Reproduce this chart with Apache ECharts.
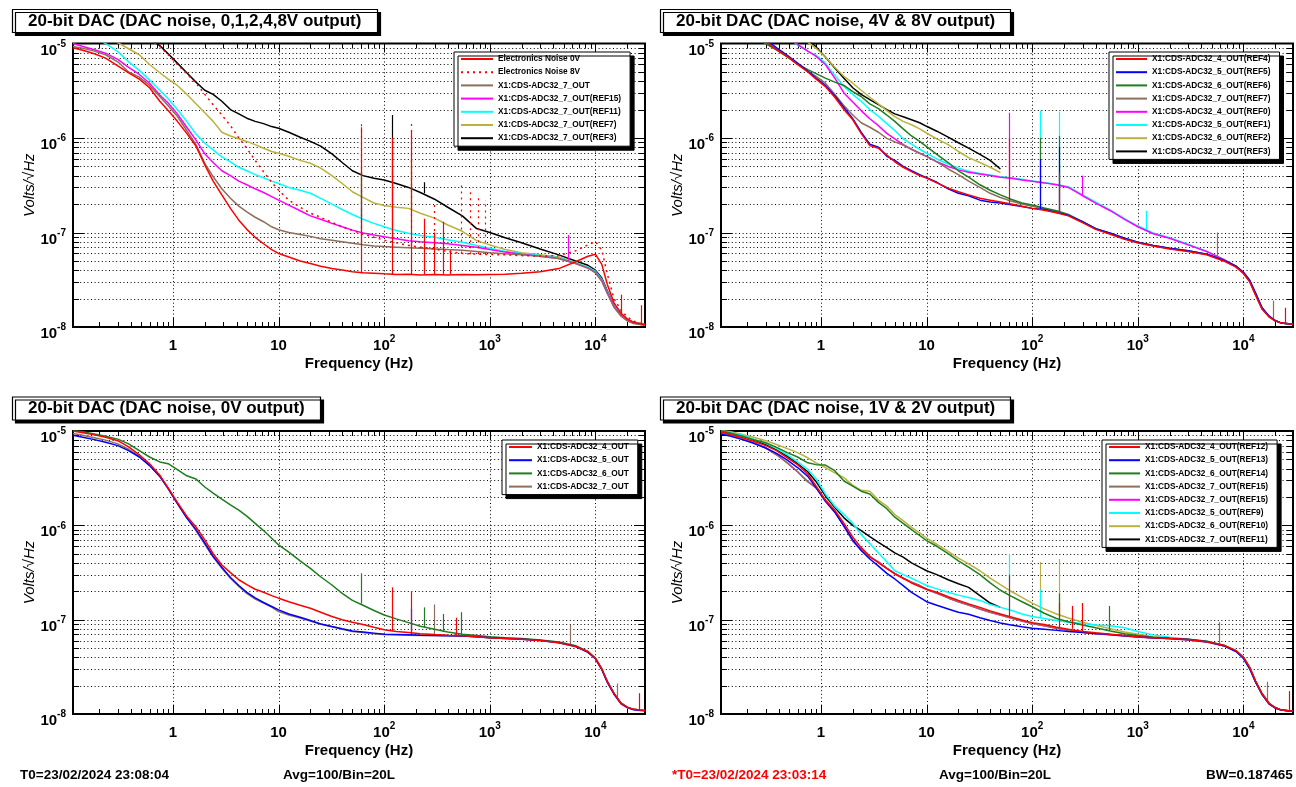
<!DOCTYPE html>
<html>
<head>
<meta charset="utf-8">
<script src="https://cdn.jsdelivr.net/npm/echarts@6/dist/echarts.min.js"></script>
<style>
  html, body { margin: 0; padding: 0; background: #ffffff; }
  #chart { width: 1296px; height: 787px; }
</style>
</head>
<body>
<div id="chart"></div>
<script>
// ---------------------------------------------------------------------------
// Frequency grid (Hz) shared by every spectrum
// ---------------------------------------------------------------------------
const FREQ = [
  0.113, 0.14, 0.18, 0.23, 0.3, 0.38, 0.48, 0.6, 0.75, 0.9,
  1.1, 1.35, 1.65, 2, 2.4, 2.9, 3.5, 4.2, 5, 6,
  7.2, 8.6, 10, 12.5, 16, 20, 25, 32, 40, 50,
  63, 80, 100, 130, 170, 220, 300, 400, 550, 750,
  1000, 1400, 2000, 3000, 4500, 6500, 8500, 10000, 11500, 13000,
  15000, 17500, 20000, 23000, 26500, 29500
];

// ---------------------------------------------------------------------------
// Panel 1: DAC noise, 0,1,2,4,8V output  (Volts/rtHz)
// ---------------------------------------------------------------------------
const P1_NOISE_0V = [
  9.0e-6, 8.5e-6, 7.8e-6, 7.0e-6, 5.8e-6, 4.9e-6, 4.2e-6, 3.4e-6, 2.45e-6, 1.95e-6,
  1.5e-6, 1.12e-6, 8.2e-7, 5.2e-7, 3.5e-7, 2.5e-7, 1.8e-7, 1.35e-7, 1.08e-7, 8.9e-8,
  7.6e-8, 6.6e-8, 6.0e-8, 5.5e-8, 5.0e-8, 4.7e-8, 4.4e-8, 4.15e-8, 4.0e-8, 3.85e-8,
  3.75e-8, 3.7e-8, 3.65e-8, 3.6e-8, 3.62e-8, 3.56e-8, 3.6e-8, 3.55e-8, 3.6e-8, 3.57e-8,
  3.6e-8, 3.62e-8, 3.7e-8, 3.85e-8, 4.15e-8, 4.9e-8, 5.6e-8, 5.9e-8, 4.6e-8, 2.8e-8,
  1.8e-8, 1.4e-8, 1.22e-8, 1.12e-8, 1.08e-8, 1.06e-8
];
const P1_NOISE_8V = [
  1.6e-5, 1.5e-5, 1.45e-5, 1.4e-5, 1.35e-5, 1.3e-5, 1.2e-5, 1.1e-5, 9.3e-6, 7.6e-6,
  6.0e-6, 4.8e-6, 3.8e-6, 2.9e-6, 2.25e-6, 1.75e-6, 1.35e-6, 1.0e-6, 7.8e-7, 5.8e-7,
  4.4e-7, 3.4e-7, 2.8e-7, 2.2e-7, 1.85e-7, 1.6e-7, 1.45e-7, 1.28e-7, 1.15e-7, 1.05e-7,
  9.6e-8, 8.9e-8, 8.3e-8, 7.8e-8, 7.3e-8, 7.0e-8, 6.7e-8, 6.3e-8, 6.0e-8, 5.9e-8,
  5.85e-8, 5.8e-8, 5.7e-8, 5.6e-8, 5.7e-8, 6.4e-8, 7.4e-8, 8.0e-8, 6.5e-8, 3.6e-8,
  2.0e-8, 1.5e-8, 1.28e-8, 1.15e-8, 1.1e-8, 1.08e-8
];
const P1_ADC7 = [
  9.3e-6, 8.9e-6, 8.3e-6, 7.6e-6, 6.4e-6, 5.0e-6, 4.4e-6, 3.6e-6, 2.75e-6, 2.2e-6,
  1.7e-6, 1.2e-6, 8.5e-7, 5.4e-7, 3.9e-7, 2.9e-7, 2.3e-7, 1.9e-7, 1.65e-7, 1.45e-7,
  1.3e-7, 1.15e-7, 1.07e-7, 1.0e-7, 9.5e-8, 9.1e-8, 8.6e-8, 8.3e-8, 8.0e-8, 7.7e-8,
  7.4e-8, 7.2e-8, 7.1e-8, 7.0e-8, 6.9e-8, 6.8e-8, 6.7e-8, 6.6e-8, 6.5e-8, 6.3e-8,
  6.1e-8, 5.95e-8, 5.8e-8, 5.6e-8, 5.3e-8, 4.7e-8, 4.2e-8, 3.75e-8, 3.05e-8, 2.25e-8,
  1.62e-8, 1.3e-8, 1.16e-8, 1.09e-8, 1.06e-8, 1.04e-8
];
const P1_REF15 = [
  1.0e-5, 9.3e-6, 8.6e-6, 7.9e-6, 6.8e-6, 5.6e-6, 4.7e-6, 3.8e-6, 2.85e-6, 2.35e-6,
  1.8e-6, 1.3e-6, 9.5e-7, 6.8e-7, 5.5e-7, 4.5e-7, 4.0e-7, 3.5e-7, 3.2e-7, 2.9e-7,
  2.65e-7, 2.4e-7, 2.2e-7, 1.95e-7, 1.7e-7, 1.5e-7, 1.38e-7, 1.25e-7, 1.15e-7, 1.06e-7,
  9.9e-8, 9.4e-8, 9.0e-8, 8.6e-8, 8.2e-8, 8.0e-8, 7.8e-8, 7.6e-8, 7.3e-8, 7.0e-8,
  6.6e-8, 6.2e-8, 5.9e-8, 5.6e-8, 5.3e-8, 4.7e-8, 4.2e-8, 3.8e-8, 3.1e-8, 2.3e-8,
  1.65e-8, 1.33e-8, 1.18e-8, 1.1e-8, 1.07e-8, 1.05e-8
];
const P1_REF11 = [
  1.4e-5, 1.3e-5, 1.15e-5, 1.0e-5, 8.2e-6, 6.4e-6, 5.2e-6, 4.1e-6, 3.2e-6, 2.6e-6,
  2.0e-6, 1.5e-6, 1.1e-6, 8.8e-7, 7.5e-7, 6.3e-7, 5.6e-7, 4.9e-7, 4.5e-7, 4.1e-7,
  3.8e-7, 3.5e-7, 3.3e-7, 3.0e-7, 2.8e-7, 2.6e-7, 2.3e-7, 2.0e-7, 1.75e-7, 1.55e-7,
  1.38e-7, 1.25e-7, 1.15e-7, 1.05e-7, 9.8e-8, 9.3e-8, 8.9e-8, 8.4e-8, 7.9e-8, 7.3e-8,
  6.8e-8, 6.3e-8, 6.0e-8, 5.7e-8, 5.4e-8, 4.8e-8, 4.3e-8, 3.9e-8, 3.2e-8, 2.35e-8,
  1.7e-8, 1.35e-8, 1.2e-8, 1.12e-8, 1.08e-8, 1.06e-8
];
const P1_REF7 = [
  1.5e-5, 1.4e-5, 1.3e-5, 1.15e-5, 1.02e-5, 8.8e-6, 7.6e-6, 6.0e-6, 4.9e-6, 4.2e-6,
  3.6e-6, 2.9e-6, 2.3e-6, 1.85e-6, 1.5e-6, 1.15e-6, 1.05e-6, 9.8e-7, 9.2e-7, 8.5e-7,
  7.8e-7, 7.2e-7, 6.9e-7, 6.4e-7, 5.8e-7, 5.4e-7, 4.8e-7, 4.0e-7, 3.3e-7, 2.7e-7,
  2.35e-7, 2.05e-7, 1.93e-7, 1.85e-7, 1.8e-7, 1.6e-7, 1.42e-7, 1.2e-7, 1.03e-7, 8.2e-8,
  7.4e-8, 6.6e-8, 6.1e-8, 5.8e-8, 5.5e-8, 4.8e-8, 4.3e-8, 3.8e-8, 3.1e-8, 2.3e-8,
  1.65e-8, 1.32e-8, 1.18e-8, 1.1e-8, 1.07e-8, 1.05e-8
];
const P1_REF3 = [
  1.6e-5, 1.55e-5, 1.5e-5, 1.45e-5, 1.4e-5, 1.35e-5, 1.25e-5, 1.12e-5, 9.5e-6, 7.8e-6,
  6.2e-6, 4.9e-6, 3.9e-6, 3.2e-6, 2.9e-6, 2.45e-6, 2.0e-6, 1.8e-6, 1.62e-6, 1.5e-6,
  1.42e-6, 1.32e-6, 1.27e-6, 1.15e-6, 1.02e-6, 9.2e-7, 8.2e-7, 6.8e-7, 5.5e-7, 4.5e-7,
  4.0e-7, 3.75e-7, 3.6e-7, 3.3e-7, 3.0e-7, 2.65e-7, 2.25e-7, 1.85e-7, 1.5e-7, 1.1e-7,
  1.0e-7, 8.8e-8, 7.8e-8, 6.7e-8, 5.8e-8, 5.0e-8, 4.5e-8, 4.0e-8, 3.3e-8, 2.4e-8,
  1.7e-8, 1.35e-8, 1.2e-8, 1.12e-8, 1.08e-8, 1.06e-8
];
// line harmonics: [frequency, floor, peak]
const P1_SPIKES_0V = [[60, 3.7e-8, 1.3e-6], [120, 3.6e-8, 1.0e-6], [180, 3.6e-8, 1.2e-6], [240, 3.6e-8, 1.4e-7], [300, 3.6e-8, 1.0e-7], [360, 3.6e-8, 1.3e-7], [420, 3.6e-8, 6.5e-8], [17700, 1.35e-8, 2.2e-8], [27000, 1.08e-8, 1.7e-8]];
const P1_SPIKES_8V = [[60, 9.6e-8, 1.4e-6], [180, 7.2e-8, 1.55e-6], [300, 6.7e-8, 2.0e-7], [540, 6.0e-8, 3.3e-7], [660, 5.9e-8, 2.95e-7], [780, 5.9e-8, 2.5e-7], [900, 5.85e-8, 2.2e-7]];
const P1_SPIKES_ADC7 = [[60, 7.4e-8, 3.0e-7]];
const P1_SPIKES_REF15 = [[120, 8.8e-8, 3.5e-7], [5500, 5.0e-8, 9.4e-8]];
const P1_SPIKES_REF11 = [[60, 1.38e-7, 4.0e-7], [120, 1.05e-7, 5.0e-7]];
const P1_SPIKES_REF7 = [[60, 2.4e-7, 5.0e-7], [120, 1.9e-7, 7.0e-7], [180, 1.8e-7, 6.0e-7]];
const P1_SPIKES_REF3 = [[120, 3.4e-7, 1.75e-6], [240, 2.6e-7, 3.4e-7]];

// ---------------------------------------------------------------------------
// Panel 2: DAC noise, 4V & 8V output
// ---------------------------------------------------------------------------
const P2_REF4 = [
  1.9e-5, 1.7e-5, 1.5e-5, 1.25e-5, 1.05e-5, 8.6e-6, 7.3e-6, 6.0e-6, 5.0e-6, 4.2e-6,
  3.5e-6, 2.7e-6, 2.0e-6, 1.56e-6, 1.12e-6, 8.3e-7, 7.8e-7, 6.6e-7, 5.6e-7, 4.9e-7,
  4.4e-7, 4.0e-7, 3.77e-7, 3.35e-7, 2.95e-7, 2.7e-7, 2.5e-7, 2.3e-7, 2.2e-7, 2.1e-7,
  2.0e-7, 1.9e-7, 1.8e-7, 1.72e-7, 1.62e-7, 1.5e-7, 1.27e-7, 1.08e-7, 9.6e-8, 8.5e-8,
  7.8e-8, 7.2e-8, 6.7e-8, 6.3e-8, 5.8e-8, 5.0e-8, 4.3e-8, 3.7e-8, 3.0e-8, 2.2e-8,
  1.55e-8, 1.28e-8, 1.16e-8, 1.1e-8, 1.08e-8, 1.07e-8
];
const P2_REF5 = [
  1.95e-5, 1.75e-5, 1.5e-5, 1.3e-5, 1.1e-5, 9.0e-6, 7.5e-6, 6.2e-6, 5.1e-6, 4.3e-6,
  3.6e-6, 2.8e-6, 2.1e-6, 1.6e-6, 1.15e-6, 8.6e-7, 8.0e-7, 6.4e-7, 5.8e-7, 5.0e-7,
  4.5e-7, 4.1e-7, 3.8e-7, 3.4e-7, 2.9e-7, 2.6e-7, 2.45e-7, 2.2e-7, 2.1e-7, 2.05e-7,
  1.97e-7, 1.88e-7, 1.8e-7, 1.75e-7, 1.63e-7, 1.52e-7, 1.3e-7, 1.1e-7, 9.8e-8, 8.7e-8,
  7.9e-8, 7.3e-8, 6.8e-8, 6.4e-8, 5.9e-8, 5.1e-8, 4.4e-8, 3.8e-8, 3.1e-8, 2.3e-8,
  1.6e-8, 1.3e-8, 1.17e-8, 1.1e-8, 1.08e-8, 1.07e-8
];
const P2_REF6 = [
  1.9e-5, 1.7e-5, 1.45e-5, 1.2e-5, 1.0e-5, 8.6e-6, 7.2e-6, 6.1e-6, 5.3e-6, 4.8e-6,
  4.3e-6, 3.9e-6, 3.6e-6, 3.1e-6, 2.75e-6, 2.3e-6, 2.05e-6, 1.75e-6, 1.5e-6, 1.25e-6,
  1.05e-6, 9.2e-7, 8.1e-7, 6.7e-7, 5.5e-7, 4.5e-7, 3.85e-7, 3.2e-7, 2.8e-7, 2.5e-7,
  2.25e-7, 2.05e-7, 1.95e-7, 1.82e-7, 1.7e-7, 1.55e-7, 1.3e-7, 1.1e-7, 9.8e-8, 8.7e-8,
  7.9e-8, 7.3e-8, 6.8e-8, 6.4e-8, 5.9e-8, 5.1e-8, 4.4e-8, 3.75e-8, 3.05e-8, 2.25e-8,
  1.58e-8, 1.29e-8, 1.16e-8, 1.1e-8, 1.08e-8, 1.07e-8
];
const P2_REF7 = [
  1.9e-5, 1.7e-5, 1.45e-5, 1.2e-5, 1.0e-5, 8.5e-6, 7.2e-6, 6.0e-6, 5.1e-6, 4.5e-6,
  3.8e-6, 2.9e-6, 2.2e-6, 1.75e-6, 1.45e-6, 1.3e-6, 1.15e-6, 9.9e-7, 9.1e-7, 8.4e-7,
  7.6e-7, 6.9e-7, 6.4e-7, 5.6e-7, 4.7e-7, 4.1e-7, 3.5e-7, 3.0e-7, 2.6e-7, 2.35e-7,
  2.15e-7, 2.0e-7, 1.9e-7, 1.78e-7, 1.66e-7, 1.52e-7, 1.28e-7, 1.09e-7, 9.7e-8, 8.6e-8,
  7.8e-8, 7.25e-8, 6.75e-8, 6.35e-8, 5.85e-8, 5.05e-8, 4.35e-8, 3.7e-8, 3.0e-8, 2.2e-8,
  1.56e-8, 1.28e-8, 1.16e-8, 1.1e-8, 1.08e-8, 1.07e-8
];
const P2_REF0 = [
  3.0e-5, 2.7e-5, 2.4e-5, 2.0e-5, 1.7e-5, 1.45e-5, 1.2e-5, 9.8e-6, 8.3e-6, 7.3e-6,
  6.0e-6, 4.3e-6, 3.0e-6, 2.4e-6, 1.95e-6, 1.6e-6, 1.35e-6, 1.12e-6, 9.8e-7, 8.5e-7,
  7.6e-7, 6.9e-7, 6.4e-7, 5.6e-7, 5.0e-7, 4.6e-7, 4.35e-7, 4.15e-7, 4.0e-7, 3.85e-7,
  3.75e-7, 3.6e-7, 3.48e-7, 3.35e-7, 3.2e-7, 3.0e-7, 2.45e-7, 2.05e-7, 1.7e-7, 1.38e-7,
  1.15e-7, 9.7e-8, 8.7e-8, 7.4e-8, 6.3e-8, 5.2e-8, 4.4e-8, 3.8e-8, 3.1e-8, 2.3e-8,
  1.6e-8, 1.3e-8, 1.17e-8, 1.1e-8, 1.08e-8, 1.07e-8
];
const P2_REF1 = [
  3.0e-5, 2.7e-5, 2.4e-5, 2.0e-5, 1.7e-5, 1.45e-5, 1.2e-5, 9.6e-6, 8.3e-6, 7.5e-6,
  6.2e-6, 4.6e-6, 3.5e-6, 2.9e-6, 2.45e-6, 2.0e-6, 1.7e-6, 1.42e-6, 1.2e-6, 9.8e-7,
  8.6e-7, 7.6e-7, 6.9e-7, 6.0e-7, 5.3e-7, 4.8e-7, 4.45e-7, 4.2e-7, 4.05e-7, 3.9e-7,
  3.8e-7, 3.65e-7, 3.5e-7, 3.38e-7, 3.22e-7, 3.05e-7, 2.5e-7, 2.1e-7, 1.72e-7, 1.4e-7,
  1.17e-7, 9.9e-8, 8.8e-8, 7.5e-8, 6.3e-8, 5.2e-8, 4.4e-8, 3.8e-8, 3.1e-8, 2.3e-8,
  1.6e-8, 1.3e-8, 1.17e-8, 1.1e-8, 1.08e-8, 1.07e-8
];
// REF2 and REF3 stop at 50 Hz
const P2_REF2 = [
  4.0e-5, 3.6e-5, 3.2e-5, 2.8e-5, 2.4e-5, 2.0e-5, 1.7e-5, 1.35e-5, 1.03e-5, 8.9e-6,
  7.2e-6, 5.6e-6, 4.5e-6, 3.8e-6, 3.2e-6, 2.7e-6, 2.3e-6, 1.95e-6, 1.68e-6, 1.5e-6,
  1.38e-6, 1.25e-6, 1.13e-6, 9.8e-7, 8.5e-7, 7.2e-7, 6.2e-7, 5.5e-7, 4.9e-7, 4.3e-7
];
const P2_REF3 = [
  4.0e-5, 3.6e-5, 3.2e-5, 2.8e-5, 2.4e-5, 2.0e-5, 1.7e-5, 1.4e-5, 1.1e-5, 9.2e-6,
  7.2e-6, 5.5e-6, 4.3e-6, 3.4e-6, 2.9e-6, 2.55e-6, 2.25e-6, 2.0e-6, 1.8e-6, 1.68e-6,
  1.56e-6, 1.45e-6, 1.33e-6, 1.18e-6, 1.02e-6, 8.9e-7, 7.8e-7, 6.7e-7, 5.8e-7, 4.7e-7
];
const P2_SPIKES_REF4 = [[60, 2.05e-7, 1.0e-6], [180, 1.62e-7, 4.3e-7], [25000, 1.08e-8, 1.6e-8]];
const P2_SPIKES_REF5 = [[120, 1.75e-7, 6.0e-7], [180, 1.63e-7, 8.0e-7]];
const P2_SPIKES_REF6 = [[120, 1.8e-7, 1.0e-6], [180, 1.7e-7, 1.05e-6]];
const P2_SPIKES_REF7 = [[5600, 5.5e-8, 1.0e-7], [19000, 1.2e-8, 1.9e-8]];
const P2_SPIKES_REF0 = [[60, 3.8e-7, 1.85e-6], [300, 2.45e-7, 4.0e-7]];
const P2_SPIKES_REF1 = [[120, 3.4e-7, 1.95e-6], [180, 3.2e-7, 1.9e-6], [1200, 1.05e-7, 1.7e-7]];

// ---------------------------------------------------------------------------
// Panel 3: DAC noise, 0V output
// ---------------------------------------------------------------------------
const P3_ADC4 = [
  1.0e-5, 9.6e-6, 9.1e-6, 8.6e-6, 7.9e-6, 6.8e-6, 5.6e-6, 4.5e-6, 3.4e-6, 2.5e-6,
  1.75e-6, 1.25e-6, 9.6e-7, 7.0e-7, 5.0e-7, 3.8e-7, 3.15e-7, 2.65e-7, 2.35e-7, 2.1e-7,
  1.95e-7, 1.8e-7, 1.69e-7, 1.55e-7, 1.42e-7, 1.32e-7, 1.2e-7, 1.08e-7, 1.0e-7, 9.4e-8,
  8.9e-8, 8.3e-8, 7.8e-8, 7.5e-8, 7.3e-8, 7.1e-8, 6.95e-8, 6.85e-8, 6.75e-8, 6.6e-8,
  6.45e-8, 6.3e-8, 6.2e-8, 6.0e-8, 5.7e-8, 5.2e-8, 4.6e-8, 3.9e-8, 3.0e-8, 2.2e-8,
  1.65e-8, 1.3e-8, 1.18e-8, 1.12e-8, 1.1e-8, 1.09e-8
];
const P3_ADC5 = [
  9.0e-6, 8.6e-6, 8.1e-6, 7.6e-6, 7.0e-6, 6.2e-6, 5.3e-6, 4.3e-6, 3.3e-6, 2.45e-6,
  1.7e-6, 1.2e-6, 9.0e-7, 6.5e-7, 4.7e-7, 3.6e-7, 2.8e-7, 2.3e-7, 1.95e-7, 1.7e-7,
  1.52e-7, 1.38e-7, 1.27e-7, 1.15e-7, 1.06e-7, 9.8e-8, 9.0e-8, 8.45e-8, 8.0e-8, 7.6e-8,
  7.4e-8, 7.2e-8, 7.0e-8, 6.95e-8, 6.9e-8, 6.85e-8, 6.8e-8, 6.75e-8, 6.7e-8, 6.6e-8,
  6.45e-8, 6.3e-8, 6.2e-8, 6.0e-8, 5.7e-8, 5.2e-8, 4.5e-8, 3.85e-8, 2.95e-8, 2.15e-8,
  1.62e-8, 1.28e-8, 1.17e-8, 1.11e-8, 1.09e-8, 1.08e-8
];
const P3_ADC6 = [
  1.02e-5, 9.8e-6, 9.3e-6, 8.8e-6, 8.2e-6, 7.3e-6, 6.2e-6, 5.3e-6, 4.7e-6, 4.5e-6,
  3.9e-6, 3.35e-6, 3.1e-6, 2.55e-6, 2.2e-6, 1.9e-6, 1.65e-6, 1.45e-6, 1.25e-6, 1.05e-6,
  8.8e-7, 7.3e-7, 6.2e-7, 5.2e-7, 4.2e-7, 3.5e-7, 2.85e-7, 2.33e-7, 1.9e-7, 1.6e-7,
  1.42e-7, 1.25e-7, 1.12e-7, 1.02e-7, 9.3e-8, 8.5e-8, 7.9e-8, 7.4e-8, 7.0e-8, 6.8e-8,
  6.6e-8, 6.45e-8, 6.3e-8, 6.1e-8, 5.8e-8, 5.3e-8, 4.6e-8, 3.9e-8, 3.0e-8, 2.2e-8,
  1.65e-8, 1.3e-8, 1.18e-8, 1.12e-8, 1.1e-8, 1.09e-8
];
const P3_ADC7 = [
  9.4e-6, 9.0e-6, 8.5e-6, 8.0e-6, 7.3e-6, 6.4e-6, 5.4e-6, 4.35e-6, 3.3e-6, 2.45e-6,
  1.72e-6, 1.2e-6, 8.8e-7, 6.3e-7, 4.6e-7, 3.5e-7, 2.75e-7, 2.25e-7, 1.9e-7, 1.65e-7,
  1.5e-7, 1.36e-7, 1.22e-7, 1.12e-7, 1.04e-7, 9.7e-8, 9.0e-8, 8.4e-8, 7.9e-8, 7.5e-8,
  7.3e-8, 7.1e-8, 6.95e-8, 6.9e-8, 6.85e-8, 6.8e-8, 6.8e-8, 6.75e-8, 6.7e-8, 6.6e-8,
  6.45e-8, 6.35e-8, 6.25e-8, 6.05e-8, 5.75e-8, 5.25e-8, 4.55e-8, 3.9e-8, 3.0e-8, 2.2e-8,
  1.65e-8, 1.3e-8, 1.18e-8, 1.12e-8, 1.1e-8, 1.09e-8
];
const P3_SPIKES_ADC4 = [[120, 7.6e-8, 2.2e-7], [180, 7.3e-8, 2.0e-7], [480, 6.8e-8, 1.05e-7], [25800, 1.1e-8, 1.66e-8]];
const P3_SPIKES_ADC5 = [[180, 6.9e-8, 1.3e-7]];
const P3_SPIKES_ADC6 = [[60, 1.48e-7, 3.1e-7], [240, 8.3e-8, 1.35e-7], [360, 7.4e-8, 1.15e-7], [540, 7.0e-8, 1.2e-7]];
const P3_SPIKES_ADC7 = [[300, 6.8e-8, 1.45e-7], [5800, 5.4e-8, 8.8e-8], [16000, 1.5e-8, 2.1e-8]];

// ---------------------------------------------------------------------------
// Panel 4: DAC noise, 1V & 2V output
// ---------------------------------------------------------------------------
const P4_REF12 = [
  9.8e-6, 9.2e-6, 8.5e-6, 7.8e-6, 7.0e-6, 6.2e-6, 5.2e-6, 4.4e-6, 3.5e-6, 2.6e-6,
  1.85e-6, 1.45e-6, 1.05e-6, 7.5e-7, 5.8e-7, 4.7e-7, 4.0e-7, 3.5e-7, 3.05e-7, 2.75e-7,
  2.45e-7, 2.25e-7, 2.1e-7, 1.95e-7, 1.75e-7, 1.6e-7, 1.47e-7, 1.35e-7, 1.24e-7, 1.15e-7,
  1.07e-7, 9.9e-8, 9.3e-8, 8.9e-8, 8.3e-8, 7.9e-8, 7.5e-8, 7.25e-8, 7.0e-8, 6.8e-8,
  6.6e-8, 6.45e-8, 6.3e-8, 6.15e-8, 5.85e-8, 5.35e-8, 4.7e-8, 4.0e-8, 3.1e-8, 2.25e-8,
  1.65e-8, 1.3e-8, 1.17e-8, 1.1e-8, 1.08e-8, 1.07e-8
];
const P4_REF13 = [
  9.3e-6, 8.8e-6, 8.1e-6, 7.4e-6, 6.6e-6, 5.8e-6, 4.9e-6, 4.1e-6, 3.3e-6, 2.5e-6,
  1.8e-6, 1.38e-6, 9.8e-7, 7.0e-7, 5.4e-7, 4.4e-7, 3.7e-7, 3.1e-7, 2.7e-7, 2.3e-7,
  1.95e-7, 1.72e-7, 1.55e-7, 1.42e-7, 1.3e-7, 1.2e-7, 1.14e-7, 1.05e-7, 9.8e-8, 9.2e-8,
  8.8e-8, 8.4e-8, 8.1e-8, 7.9e-8, 7.7e-8, 7.5e-8, 7.3e-8, 7.15e-8, 6.95e-8, 6.75e-8,
  6.6e-8, 6.45e-8, 6.3e-8, 6.15e-8, 5.85e-8, 5.3e-8, 4.6e-8, 3.9e-8, 3.0e-8, 2.2e-8,
  1.62e-8, 1.28e-8, 1.16e-8, 1.1e-8, 1.08e-8, 1.07e-8
];
const P4_REF14 = [
  1.0e-5, 9.5e-6, 8.8e-6, 8.1e-6, 7.5e-6, 6.7e-6, 5.9e-6, 5.3e-6, 4.6e-6, 4.4e-6,
  4.35e-6, 3.8e-6, 2.95e-6, 2.6e-6, 2.3e-6, 2.15e-6, 1.75e-6, 1.5e-6, 1.22e-6, 1.05e-6,
  9.0e-7, 7.8e-7, 6.9e-7, 6.0e-7, 5.0e-7, 4.2e-7, 3.6e-7, 3.0e-7, 2.45e-7, 2.05e-7,
  1.78e-7, 1.55e-7, 1.37e-7, 1.17e-7, 1.03e-7, 9.5e-8, 8.8e-8, 8.2e-8, 7.6e-8, 7.1e-8,
  6.8e-8, 6.5e-8, 6.35e-8, 6.2e-8, 5.9e-8, 5.35e-8, 4.7e-8, 4.0e-8, 3.1e-8, 2.25e-8,
  1.65e-8, 1.3e-8, 1.17e-8, 1.1e-8, 1.08e-8, 1.07e-8
];
// the two REF15 traces carry the same record
const P4_REF15 = [
  9.6e-6, 9.1e-6, 8.3e-6, 7.5e-6, 6.6e-6, 5.6e-6, 4.6e-6, 3.7e-6, 2.9e-6, 2.5e-6,
  1.85e-6, 1.4e-6, 9.8e-7, 6.8e-7, 5.5e-7, 4.6e-7, 4.1e-7, 3.5e-7, 3.1e-7, 2.75e-7,
  2.5e-7, 2.3e-7, 2.1e-7, 1.9e-7, 1.7e-7, 1.55e-7, 1.43e-7, 1.3e-7, 1.2e-7, 1.12e-7,
  1.04e-7, 9.7e-8, 9.1e-8, 8.6e-8, 8.1e-8, 7.7e-8, 7.35e-8, 7.1e-8, 6.9e-8, 6.7e-8,
  6.55e-8, 6.4e-8, 6.3e-8, 6.1e-8, 5.8e-8, 5.3e-8, 4.65e-8, 3.95e-8, 3.05e-8, 2.2e-8,
  1.62e-8, 1.28e-8, 1.16e-8, 1.1e-8, 1.08e-8, 1.07e-8
];
const P4_REF9 = [
  1.0e-5, 9.6e-6, 9.0e-6, 8.2e-6, 7.4e-6, 6.5e-6, 5.6e-6, 4.7e-6, 3.9e-6, 3.1e-6,
  2.15e-6, 1.6e-6, 1.3e-6, 1.05e-6, 8.0e-7, 6.4e-7, 5.1e-7, 4.1e-7, 3.3e-7, 3.0e-7,
  2.75e-7, 2.5e-7, 2.3e-7, 2.12e-7, 1.95e-7, 1.82e-7, 1.72e-7, 1.6e-7, 1.45e-7, 1.35e-7,
  1.26e-7, 1.15e-7, 1.08e-7, 1.03e-7, 9.8e-8, 9.4e-8, 9.1e-8, 8.8e-8, 8.6e-8, 8.2e-8,
  7.5e-8, 6.9e-8, 6.5e-8, 6.2e-8, 5.9e-8, 5.3e-8, 4.6e-8, 3.9e-8, 3.0e-8, 2.2e-8,
  1.62e-8, 1.28e-8, 1.16e-8, 1.1e-8, 1.08e-8, 1.07e-8
];
const P4_REF10 = [
  1.02e-5, 9.8e-6, 9.2e-6, 8.6e-6, 7.9e-6, 7.2e-6, 6.5e-6, 5.9e-6, 5.2e-6, 4.6e-6,
  4.1e-6, 3.6e-6, 3.2e-6, 2.65e-6, 2.35e-6, 2.3e-6, 1.85e-6, 1.6e-6, 1.3e-6, 1.12e-6,
  9.5e-7, 8.3e-7, 7.3e-7, 6.3e-7, 5.3e-7, 4.5e-7, 3.9e-7, 3.3e-7, 2.75e-7, 2.35e-7,
  2.0e-7, 1.72e-7, 1.5e-7, 1.3e-7, 1.15e-7, 1.04e-7, 9.4e-8, 8.7e-8, 8.0e-8, 7.4e-8,
  7.0e-8, 6.6e-8, 6.4e-8, 6.2e-8, 5.9e-8, 5.35e-8, 4.7e-8, 4.0e-8, 3.1e-8, 2.25e-8,
  1.65e-8, 1.3e-8, 1.17e-8, 1.1e-8, 1.08e-8, 1.07e-8
];
// REF11 stops at 50 Hz
const P4_REF11 = [
  1.0e-5, 9.5e-6, 8.9e-6, 8.1e-6, 7.2e-6, 6.3e-6, 5.4e-6, 4.5e-6, 3.7e-6, 2.9e-6,
  2.05e-6, 1.55e-6, 1.2e-6, 1.0e-6, 8.8e-7, 7.6e-7, 6.6e-7, 5.8e-7, 5.1e-7, 4.6e-7,
  4.0e-7, 3.6e-7, 3.3e-7, 3.0e-7, 2.65e-7, 2.4e-7, 2.2e-7, 1.8e-7, 1.5e-7, 1.35e-7
];
const P4_SPIKES_REF12 = [[60, 1.07e-7, 3.0e-7], [180, 8.3e-8, 1.5e-7], [240, 8.0e-8, 1.4e-7], [300, 7.5e-8, 1.5e-7], [27000, 1.08e-8, 1.75e-8]];
const P4_SPIKES_REF14 = [[180, 1.05e-7, 1.9e-7], [540, 7.7e-8, 1.4e-7]];
const P4_SPIKES_REF15 = [[5900, 5.5e-8, 9.4e-8], [17000, 1.35e-8, 2.2e-8]];
const P4_SPIKES_REF9 = [[60, 1.26e-7, 5.0e-7], [120, 1.05e-7, 2.1e-7]];
const P4_SPIKES_REF10 = [[120, 1.35e-7, 4.1e-7], [180, 1.12e-7, 4.4e-7]];

// ---------------------------------------------------------------------------
// Axis ticks
// ---------------------------------------------------------------------------
const X_MAJOR_TICKS = [1, 10, 100, 1000, 10000];
const X_MINOR_TICKS = [0.2, 0.3, 0.4, 0.5, 0.6, 0.7, 0.8, 0.9, 2, 3, 4, 5, 6, 7, 8, 9,
  20, 30, 40, 50, 60, 70, 80, 90, 200, 300, 400, 500, 600, 700, 800, 900,
  2000, 3000, 4000, 5000, 6000, 7000, 8000, 9000, 20000];
const Y_MAJOR_TICKS = [1e-7, 1e-6];
const Y_MINOR_TICKS = [2e-8, 3e-8, 4e-8, 5e-8, 6e-8, 7e-8, 8e-8, 9e-8,
  2e-7, 3e-7, 4e-7, 5e-7, 6e-7, 7e-7, 8e-7, 9e-7,
  2e-6, 3e-6, 4e-6, 5e-6, 6e-6, 7e-6, 8e-6, 9e-6];

// ---------------------------------------------------------------------------
// Text
// ---------------------------------------------------------------------------
const PANEL_TITLES = [
  '20-bit DAC (DAC noise, 0,1,2,4,8V output)',
  '20-bit DAC (DAC noise, 4V & 8V output)',
  '20-bit DAC (DAC noise, 0V output)',
  '20-bit DAC (DAC noise, 1V & 2V output)'
];
const FOOTER = [
  { text: 'T0=23/02/2024 23:08:04', x: 20, color: '#000000' },
  { text: 'Avg=100/Bin=20L', x: 283, color: '#000000' },
  { text: '*T0=23/02/2024 23:03:14', x: 672, color: '#ff0000' },
  { text: 'Avg=100/Bin=20L', x: 939, color: '#000000' },
  { text: 'BW=0.187465', x: 1206, color: '#000000' }
];

// ---------------------------------------------------------------------------
// Styling
// ---------------------------------------------------------------------------
const FONT = '"Liberation Sans", Arial, Helvetica, sans-serif';
const C = {
  red: '#ff0000', blue: '#0000ff', green: '#1e7d1e', brown: '#8e6e5c',
  magenta: '#ff00ff', cyan: '#00ffff', olive: '#bab23c', black: '#000000'
};
const GRIDS = [
  { left: 73, top: 43.5, width: 572, height: 283.5 },
  { left: 721, top: 43.5, width: 572, height: 283.5 },
  { left: 73, top: 431, width: 572, height: 283 },
  { left: 721, top: 431, width: 572, height: 283 }
];

// the first trace of each panel is painted last, so it sits on top
function traceSeries(key, gi, values, color, spikes, dotted, layer) {
  const lineType = dotted ? [2, 4] : 'solid';
  const s = {
    type: 'line', name: key, xAxisIndex: gi, yAxisIndex: gi,
    data: values.map((v, i) => [FREQ[i], v]),
    symbol: 'none', showSymbol: false, animation: false, z: 20 - layer,
    lineStyle: { color: color, width: 1.5, type: lineType },
    itemStyle: { color: color },
    emphasis: { disabled: true }
  };
  if (spikes && spikes.length) {
    s.markLine = {
      silent: true, animation: false, symbol: ['none', 'none'], z: 20 - layer,
      label: { show: false }, emphasis: { disabled: true },
      lineStyle: { color: color, width: 1.2, type: lineType },
      data: spikes.map(p => [{ coord: [p[0], p[1]] }, { coord: [p[0], p[2]] }])
    };
  }
  return s;
}

// dotted grid lines and inward ticks, placed through the axis scales
function yGridSeries(gi) {
  const data = Y_MINOR_TICKS.map(v => [1, v, 0]).concat(Y_MAJOR_TICKS.map(v => [1, v, 1]));
  return {
    type: 'custom', xAxisIndex: gi, yAxisIndex: gi, silent: true, z: 1, animation: false, clip: false,
    data: data,
    renderItem: function (params, api) {
      const cs = params.coordSys;
      const p = api.coord([api.value(0), api.value(1)]);
      const y = Math.round(p[1]) + 0.5;
      const len = api.value(2) === 1 ? 11 : 6;
      return { type: 'group', children: [
        { type: 'line', shape: { x1: cs.x, y1: y, x2: cs.x + cs.width, y2: y },
          style: { stroke: '#000', lineWidth: 1, lineDash: [1, 2.6] } },
        { type: 'line', shape: { x1: cs.x, y1: y, x2: cs.x + len, y2: y }, style: { stroke: '#000', lineWidth: 1 } },
        { type: 'line', shape: { x1: cs.x + cs.width - len, y1: y, x2: cs.x + cs.width, y2: y }, style: { stroke: '#000', lineWidth: 1 } }
      ] };
    }
  };
}
function xGridSeries(gi) {
  const data = X_MINOR_TICKS.map(v => [v, 1e-6, 0]).concat(X_MAJOR_TICKS.map(v => [v, 1e-6, 1]));
  return {
    type: 'custom', xAxisIndex: gi, yAxisIndex: gi, silent: true, z: 1, animation: false, clip: false,
    data: data,
    renderItem: function (params, api) {
      const cs = params.coordSys;
      const p = api.coord([api.value(0), api.value(1)]);
      const x = Math.round(p[0]) + 0.5;
      const major = api.value(2) === 1;
      const len = major ? 9 : 5;
      const kids = [
        { type: 'line', shape: { x1: x, y1: cs.y + cs.height, x2: x, y2: cs.y + cs.height - len }, style: { stroke: '#000', lineWidth: 1 } },
        { type: 'line', shape: { x1: x, y1: cs.y, x2: x, y2: cs.y + len }, style: { stroke: '#000', lineWidth: 1 } }
      ];
      if (major) {
        kids.push({ type: 'line', shape: { x1: x, y1: cs.y, x2: x, y2: cs.y + cs.height },
          style: { stroke: '#000', lineWidth: 1, lineDash: [1, 2.6] } });
      }
      return { type: 'group', children: kids };
    }
  };
}

const RICH = {
  b: { fontFamily: FONT, fontWeight: 'bold', fontSize: 15, color: '#000', lineHeight: 23 },
  s: { fontFamily: FONT, fontWeight: 'bold', fontSize: 10, color: '#000', lineHeight: 10, padding: [0, 0, 13, 0] }
};
function xLabel(v) {
  const e = Math.round(Math.log10(v));
  if (e === 0) return '{b|1}';
  if (e === 1) return '{b|10}';
  return '{b|10}{s|' + e + '}';
}
function yLabel(v) {
  const e = Math.round(Math.log10(v));
  return '{b|10}{s|' + e + '}';
}

const xAxes = GRIDS.map((g, i) => ({
  type: 'log', logBase: 10, gridIndex: i, min: 0.113, max: 29500,
  axisLine: { show: false }, axisTick: { show: false }, splitLine: { show: false },
  minorTick: { show: false }, minorSplitLine: { show: false },
  axisLabel: { formatter: xLabel, rich: RICH, margin: 7, showMinLabel: false, showMaxLabel: false, color: '#000' },
  name: 'Frequency (Hz)', nameLocation: 'middle', nameGap: 29, nameMoveOverlap: false,
  nameTextStyle: { fontFamily: FONT, fontWeight: 'bold', fontSize: 15, color: '#000' }
}));
const yAxes = GRIDS.map((g, i) => ({
  type: 'log', logBase: 10, gridIndex: i, min: 1e-8, max: 1e-5,
  axisLine: { show: false }, axisTick: { show: false }, splitLine: { show: false },
  minorTick: { show: false }, minorSplitLine: { show: false },
  axisLabel: { formatter: yLabel, rich: RICH, margin: 7, padding: [14, 0, 0, 0], color: '#000' },
  name: 'Volts/√Hz', nameLocation: 'middle', nameGap: 36, nameRotate: 90, nameMoveOverlap: false,
  nameTextStyle: { fontFamily: FONT, fontStyle: 'italic', fontSize: 15, color: '#000' }
}));

const series = [
  // panel 1
  traceSeries('1|Electronics Noise 0V', 0, P1_NOISE_0V, C.red, P1_SPIKES_0V, false, 0),
  traceSeries('1|Electronics Noise 8V', 0, P1_NOISE_8V, C.red, P1_SPIKES_8V, true, 1),
  traceSeries('1|X1:CDS-ADC32_7_OUT', 0, P1_ADC7, C.brown, P1_SPIKES_ADC7, false, 2),
  traceSeries('1|X1:CDS-ADC32_7_OUT(REF15)', 0, P1_REF15, C.magenta, P1_SPIKES_REF15, false, 3),
  traceSeries('1|X1:CDS-ADC32_7_OUT(REF11)', 0, P1_REF11, C.cyan, P1_SPIKES_REF11, false, 4),
  traceSeries('1|X1:CDS-ADC32_7_OUT(REF7)', 0, P1_REF7, C.olive, P1_SPIKES_REF7, false, 5),
  traceSeries('1|X1:CDS-ADC32_7_OUT(REF3)', 0, P1_REF3, C.black, P1_SPIKES_REF3, false, 6),
  // panel 2
  traceSeries('2|X1:CDS-ADC32_4_OUT(REF4)', 1, P2_REF4, C.red, P2_SPIKES_REF4, false, 0),
  traceSeries('2|X1:CDS-ADC32_5_OUT(REF5)', 1, P2_REF5, C.blue, P2_SPIKES_REF5, false, 1),
  traceSeries('2|X1:CDS-ADC32_6_OUT(REF6)', 1, P2_REF6, C.green, P2_SPIKES_REF6, false, 2),
  traceSeries('2|X1:CDS-ADC32_7_OUT(REF7)', 1, P2_REF7, C.brown, P2_SPIKES_REF7, false, 3),
  traceSeries('2|X1:CDS-ADC32_4_OUT(REF0)', 1, P2_REF0, C.magenta, P2_SPIKES_REF0, false, 4),
  traceSeries('2|X1:CDS-ADC32_5_OUT(REF1)', 1, P2_REF1, C.cyan, P2_SPIKES_REF1, false, 5),
  traceSeries('2|X1:CDS-ADC32_6_OUT(REF2)', 1, P2_REF2, C.olive, null, false, 6),
  traceSeries('2|X1:CDS-ADC32_7_OUT(REF3)', 1, P2_REF3, C.black, null, false, 7),
  // panel 3
  traceSeries('3|X1:CDS-ADC32_4_OUT', 2, P3_ADC4, C.red, P3_SPIKES_ADC4, false, 0),
  traceSeries('3|X1:CDS-ADC32_5_OUT', 2, P3_ADC5, C.blue, P3_SPIKES_ADC5, false, 1),
  traceSeries('3|X1:CDS-ADC32_6_OUT', 2, P3_ADC6, C.green, P3_SPIKES_ADC6, false, 2),
  traceSeries('3|X1:CDS-ADC32_7_OUT', 2, P3_ADC7, C.brown, P3_SPIKES_ADC7, false, 3),
  // panel 4
  traceSeries('4a|X1:CDS-ADC32_4_OUT(REF12)', 3, P4_REF12, C.red, P4_SPIKES_REF12, false, 0),
  traceSeries('4a|X1:CDS-ADC32_5_OUT(REF13)', 3, P4_REF13, C.blue, null, false, 1),
  traceSeries('4a|X1:CDS-ADC32_6_OUT(REF14)', 3, P4_REF14, C.green, P4_SPIKES_REF14, false, 2),
  traceSeries('4a|X1:CDS-ADC32_7_OUT(REF15)', 3, P4_REF15, C.brown, P4_SPIKES_REF15, false, 3),
  traceSeries('4b|X1:CDS-ADC32_7_OUT(REF15)', 3, P4_REF15, C.magenta, null, false, 4),
  traceSeries('4a|X1:CDS-ADC32_5_OUT(REF9)', 3, P4_REF9, C.cyan, P4_SPIKES_REF9, false, 5),
  traceSeries('4a|X1:CDS-ADC32_6_OUT(REF10)', 3, P4_REF10, C.olive, P4_SPIKES_REF10, false, 6),
  traceSeries('4a|X1:CDS-ADC32_7_OUT(REF11)', 3, P4_REF11, C.black, null, false, 7)
];
for (let i = 0; i < 4; i++) { series.push(yGridSeries(i)); series.push(xGridSeries(i)); }

function legendBox(names, left, top, iconWidth) {
  return {
    orient: 'vertical', left: left, top: top, data: names, selectedMode: false,
    formatter: n => n.slice(n.indexOf('|') + 1),
    itemWidth: iconWidth, itemHeight: 10, itemGap: 5.2,
    padding: [3, 9, 4, 6],
    backgroundColor: '#ffffff', borderColor: '#000000', borderWidth: 1, borderRadius: 0,
    shadowColor: '#000000', shadowBlur: 0, shadowOffsetX: 4, shadowOffsetY: 4,
    itemStyle: { opacity: 0, borderWidth: 0 },
    lineStyle: { width: 2 },
    textStyle: { fontFamily: FONT, fontWeight: 'bold', fontSize: 8.3, color: '#000000' }
  };
}

const legends = [
  legendBox(series.slice(0, 7).map(s => s.name), 454, 52, 32),
  legendBox(series.slice(7, 15).map(s => s.name), 1109, 52, 31),
  legendBox(series.slice(15, 19).map(s => s.name), 502, 440, 23),
  legendBox(series.slice(19, 27).map(s => s.name), 1102, 440, 31)
];

const TITLE_POS = [[12, 9], [660, 9], [12, 396.5], [660, 396.5]];
const titles = PANEL_TITLES.map((t, i) => ({
  text: t, left: TITLE_POS[i][0], top: TITLE_POS[i][1],
  padding: [3, 16], backgroundColor: '#ffffff', borderColor: '#000000', borderWidth: 1.2,
  shadowColor: '#000000', shadowBlur: 0, shadowOffsetX: 3, shadowOffsetY: 3,
  textStyle: { fontFamily: FONT, fontWeight: 'bold', fontSize: 17, lineHeight: 18, color: '#000000' }
}));

const footer = FOOTER.map(f => ({
  type: 'text', left: f.x, top: 768, silent: true,
  style: { text: f.text, fill: f.color, fontFamily: FONT, fontWeight: 'bold', fontSize: 13.5 }
}));

const chart = echarts.init(document.getElementById('chart'), null, { renderer: 'canvas' });
chart.setOption({
  backgroundColor: '#ffffff',
  animation: false,
  title: titles,
  legend: legends,
  grid: GRIDS.map(g => Object.assign({ show: true, borderColor: '#000000', borderWidth: 2, backgroundColor: 'transparent', containLabel: false }, g)),
  xAxis: xAxes,
  yAxis: yAxes,
  series: series,
  graphic: footer
});
</script>
</body>
</html>
